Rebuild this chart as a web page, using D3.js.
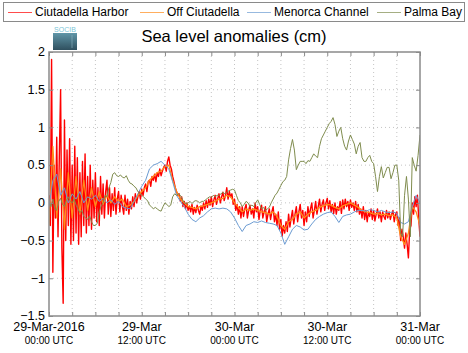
<!DOCTYPE html>
<html>
<head>
<meta charset="utf-8">
<script src="https://cdn.jsdelivr.net/npm/d3@7/dist/d3.min.js"></script>
<style>
body { margin: 0; background: #fff; }
svg text { font-family: "Liberation Sans", Arial, Helvetica, sans-serif; fill: #000; }
</style>
</head>
<body>
<div id="chart"></div>
<script>
// series names + colours
const seriesNames = ["Ciutadella Harbor", "Off Ciutadella", "Menorca Channel", "Palma Bay"];
const seriesColors = ["#ff0000", "#ff8c1a", "#6b9bd2", "#7f8c4e"];

// x axis labels
const tickLabelTop = ["29-Mar-2016", "29-Mar", "30-Mar", "30-Mar", "31-Mar"];
const tickLabelBottom = ["00:00 UTC", "12:00 UTC", "00:00 UTC", "12:00 UTC", "00:00 UTC"];
const yTicks = [-1.5, -1, -0.5, 0, 0.5, 1, 1.5, 2];

const start = new Date(Date.UTC(2016, 2, 29, 0, 0));
const end = new Date(Date.UTC(2016, 2, 31, 0, 0));

// Ciutadella Harbor, every 10 min (one row = one hour)
const harbor = [
  0.1, -0.3, 1.9, -0.92, 0.5, -0.2,
  0.87, -0.45, 0.6, 1.5, -0.6, -1.33,
  1.1, -0.5, 0.7, -0.3, 0.85, -0.55,
  0.5, -0.5, 0.75, -0.4, 0.6, -0.55,
  0.4, -0.45, 0.55, -0.3, 0.65, -0.4,
  0.35, -0.3, 0.5, -0.35, 0.3, -0.2,
  0.4, -0.25, 0.2, -0.3, 0.35, -0.15,
  0.25, -0.2, 0.15, 0.3, -0.15, 0.2,
  -0.18, 0.12, -0.1, 0.2, -0.15, 0.05,
  0.15, -0.12, 0.1, -0.05, -0.15, 0.1,
  -0.1, 0.05, -0.15, 0.02, -0.08, 0.08,
  -0.05, 0.12, 0.0, 0.08, 0.15, 0.05,
  0.18, 0.1, 0.2, 0.25, 0.15, 0.28,
  0.3, 0.22, 0.35, 0.3, 0.38, 0.28,
  0.4, 0.35, 0.45, 0.36, 0.42, 0.47,
  0.5, 0.42, 0.55, 0.61, 0.5, 0.45,
  0.35, 0.28, 0.2, 0.15, 0.1, 0.12,
  0.02, 0.08, -0.05, 0.02, -0.08, 0.0,
  -0.1, -0.04, -0.12, -0.02, -0.15, -0.06,
  -0.13, -0.03, -0.1, -0.15, -0.04, -0.1,
  0.0, -0.08, 0.03, -0.06, 0.05, -0.03,
  0.08, -0.05, 0.04, 0.1, -0.02, 0.06,
  0.12, 0.0, 0.08, 0.14, 0.03, 0.1,
  0.2, 0.05, 0.15, 0.08, 0.12, -0.02,
  0.05, -0.1, -0.02, -0.15, -0.05, -0.2,
  -0.05, -0.18, -0.08, -0.02, -0.2, -0.1,
  -0.03, -0.15, -0.08, -0.2, 0.0, -0.12,
  -0.05, -0.22, -0.1, -0.03, -0.2, -0.12,
  -0.05, -0.25, -0.15, -0.08, -0.22, -0.12,
  -0.05, -0.25, -0.15, -0.3, -0.12, -0.35,
  -0.22, -0.44, -0.3, -0.4, -0.25, -0.38,
  -0.15, -0.32, -0.2, -0.1, -0.28, -0.15,
  -0.05, -0.25, -0.12, -0.02, -0.2, -0.1,
  -0.3, -0.12, -0.25, -0.05, -0.18, -0.08,
  0.0, -0.2, -0.1, 0.02, -0.15, -0.05,
  0.05, -0.12, -0.02, 0.04, -0.1, 0.0,
  0.06, -0.08, 0.03, -0.12, -0.02, -0.14,
  0.0, -0.15, -0.05, -0.1, 0.02, -0.14,
  0.04, -0.08, 0.05, -0.05, 0.02, -0.1,
  0.04, -0.06, 0.0, -0.1, 0.02, -0.12,
  -0.02, -0.15, -0.08, -0.2, -0.05, -0.22,
  -0.1, -0.25, -0.12, -0.18, -0.08, -0.22,
  -0.1, -0.24, -0.15, -0.08, -0.2, -0.12,
  -0.25, -0.12, -0.18, -0.22, -0.1, -0.2,
  -0.12, -0.22, -0.15, -0.1, -0.25, -0.15,
  -0.12, -0.3, -0.2, -0.5, -0.35, -0.45,
  -0.6, -0.4, -0.55, -0.73, -0.35, -0.3,
  0.0, -0.15, 0.08, -0.05, 0.1, -0.2,
  -0.45
];

// Off Ciutadella, every 30 min
const offCiutadella = [
  -0.3, 0.75, -0.2, 0.45, -0.35, 0.4, -0.2, 0.35, -0.15, 0.3, -0.1, 0.2,
  -0.05, 0.15, -0.02, 0.1, 0.0, 0.08, 0.02, 0.05, -0.05, -0.03, 0.02, 0.1,
  0.15, 0.2, 0.3, 0.35, 0.4, 0.42, 0.48, 0.5, 0.3, 0.15, 0.05, 0.0,
  -0.05, -0.06, -0.08, -0.05, -0.04, -0.02, 0.0, 0.02, 0.05, 0.06, 0.1, 0.08,
  0.0, -0.06, -0.12, -0.08, -0.1, -0.08, -0.1, -0.12, -0.13, -0.15, -0.12, -0.18,
  -0.3, -0.35, -0.25, -0.22, -0.15, -0.12, -0.2, -0.15, -0.12, -0.1, -0.06, -0.04,
  -0.02, -0.03, -0.06, -0.08, -0.04, -0.02, 0.0, -0.03, -0.06, -0.1, -0.12, -0.13,
  -0.15, -0.14, -0.16, -0.15, -0.17, -0.16, -0.2, -0.45, -0.55, -0.4, -0.05, -0.12,
  -0.3
];

// Menorca Channel, every 30 min
const menorca = [
  -0.05, 0.3, 0.38, 0.1, 0.2, 0.0, 0.12, 0.05, 0.15, 0.0, 0.08, 0.05,
  0.1, 0.02, 0.06, 0.0, 0.04, -0.02, 0.02, -0.05, -0.07, -0.08, 0.02, 0.12,
  0.22, 0.3, 0.45, 0.5, 0.52, 0.55, 0.5, 0.45, 0.28, 0.1, 0.02, -0.05,
  -0.15, -0.22, -0.25, -0.2, -0.17, -0.12, -0.08, -0.07, -0.08, -0.07, -0.08, -0.12,
  -0.2, -0.3, -0.38, -0.3, -0.28, -0.25, -0.26, -0.24, -0.26, -0.27, -0.28, -0.3,
  -0.4, -0.55, -0.45, -0.35, -0.3, -0.32, -0.36, -0.35, -0.28, -0.22, -0.18, -0.15,
  -0.13, -0.12, -0.18, -0.26, -0.18, -0.16, -0.15, -0.12, -0.1, -0.1, -0.11, -0.09,
  -0.1, -0.12, -0.1, -0.12, -0.13, -0.12, -0.14, -0.26, -0.28, -0.25, -0.05, 0.1,
  0.0
];

// Palma Bay, every 15 min
const palma = [
  0.0, -0.05, 0.05, -0.08, -0.1, 0.02, 0.06, -0.02, -0.05, 0.03, 0.08, 0.02,
  0.0, 0.05, -0.03, -0.08, -0.13, -0.1, -0.18, -0.2, -0.22, -0.17, -0.25, -0.3,
  -0.3, -0.27, -0.12, -0.04, 0.0, 0.1, 0.08, 0.2, 0.27, 0.38, 0.4, 0.36,
  0.35, 0.37, 0.34, 0.33, 0.36, 0.3, 0.26, 0.25, 0.22, 0.2, 0.15, 0.12,
  0.1, 0.08, 0.05, 0.03, -0.03, -0.05, -0.08, -0.06, -0.08, -0.1, -0.11, -0.05,
  0.0, -0.02, -0.05, -0.03, 0.08, 0.12, 0.1, 0.12, 0.1, 0.05, 0.0, -0.01,
  0.0, 0.02, -0.01, 0.02, 0.03, 0.02, 0.0, 0.02, 0.02, 0.04, 0.06, 0.08,
  0.07, 0.1, 0.08, 0.1, 0.1, 0.12, 0.14, 0.12, 0.14, 0.16, 0.17, 0.18,
  0.17, 0.1, 0.03, 0.0, -0.05, -0.02, 0.02, 0.0, -0.05, -0.03, -0.05, 0.0,
  0.04, -0.02, -0.08, -0.06, -0.1, -0.08, -0.06, 0.0, 0.05, 0.1, 0.13, 0.18,
  0.23, 0.28, 0.3, 0.35, 0.57, 0.72, 0.84, 0.7, 0.44, 0.5, 0.55, 0.55,
  0.55, 0.52, 0.56, 0.55, 0.6, 0.65, 0.62, 0.6, 0.75, 0.85, 0.9, 0.95,
  1.0, 1.05, 1.08, 1.13, 1.04, 0.88, 0.95, 1.0, 0.85, 0.75, 0.7, 0.82,
  0.9, 0.84, 0.78, 0.65, 0.75, 0.8, 0.6, 0.55, 0.55, 0.6, 0.63, 0.55,
  0.52, 0.35, 0.15, 0.35, 0.48, 0.33, 0.4, 0.47, 0.47, 0.32, 0.4, 0.5,
  0.5, 0.3, -0.4, -0.45, 0.1, 0.35, 0.05, -0.45, 0.6, 0.5, 0.42, 0.63,
  0.9
];

const seriesData = [harbor, offCiutadella, menorca, palma];
const seriesStep = [10, 30, 30, 15]; // minutes between samples
const seriesWidth = [1.4, 1.3, 1, 1];

const width = 468;
const height = 353;
const margin = { top: 52, right: 48, bottom: 37, left: 49 };

const svg = d3.select("#chart")
    .append("svg")
    .attr("width", width)
    .attr("height", height);

const x = d3.scaleUtc()
    .domain([start, end])
    .range([margin.left, width - margin.right]);

const y = d3.scaleLinear()
    .domain([-1.5, 2])
    .range([height - margin.bottom, margin.top]);

const x0 = margin.left, x1 = width - margin.right;
const y0 = margin.top, y1 = height - margin.bottom;

// ticks every 3 h
const xTicks = d3.utcHour.every(3).range(start, d3.utcHour.offset(end, 1));
const labelDates = d3.utcHour.every(12).range(start, d3.utcHour.offset(end, 1));

// grid
svg.append("g")
    .selectAll("line")
    .data(xTicks.slice(1, -1))
    .join("line")
    .attr("x1", d => x(d)).attr("x2", d => x(d))
    .attr("y1", y0).attr("y2", y1)
    .attr("stroke", "#c4c4c4")
    .attr("stroke-width", 1)
    .attr("stroke-dasharray", "1,3");

svg.append("g")
    .selectAll("line")
    .data(yTicks.slice(1, -1))
    .join("line")
    .attr("x1", x0).attr("x2", x1)
    .attr("y1", d => y(d)).attr("y2", d => y(d))
    .attr("stroke", "#c4c4c4")
    .attr("stroke-width", 1)
    .attr("stroke-dasharray", "1,3");

// data lines
svg.append("clipPath").attr("id", "plotclip")
    .append("rect")
    .attr("x", x0).attr("y", y0)
    .attr("width", x1 - x0).attr("height", y1 - y0);

const plot = svg.append("g").attr("clip-path", "url(#plotclip)");

seriesData.forEach((vals, k) => {
    const pts = vals.map((v, i) => ({ t: d3.utcMinute.offset(start, i * seriesStep[k]), v: v }));
    plot.append("path")
        .datum(pts)
        .attr("fill", "none")
        .attr("stroke", seriesColors[k])
        .attr("stroke-width", seriesWidth[k])
        .attr("stroke-linejoin", "round")
        .attr("d", d3.line().x(d => x(d.t)).y(d => y(d.v)));
});

// axes, ticks pointing inwards on all four sides
const axisColor = "#8a8a8a";
function styleAxis(g) {
    g.select(".domain").remove();
    g.selectAll(".tick line").attr("stroke", axisColor);
    g.selectAll(".tick text").remove();
}

svg.append("g").attr("transform", `translate(0,${y1})`)
    .call(d3.axisBottom(x).tickValues(xTicks).tickSizeInner(-4).tickSizeOuter(0))
    .call(styleAxis);
svg.append("g").attr("transform", `translate(0,${y0})`)
    .call(d3.axisTop(x).tickValues(xTicks).tickSizeInner(-4).tickSizeOuter(0))
    .call(styleAxis);
svg.append("g").attr("transform", `translate(${x0},0)`)
    .call(d3.axisLeft(y).tickValues(yTicks).tickSizeInner(-4).tickSizeOuter(0))
    .call(styleAxis);
svg.append("g").attr("transform", `translate(${x1},0)`)
    .call(d3.axisRight(y).tickValues(yTicks).tickSizeInner(-4).tickSizeOuter(0))
    .call(styleAxis);

svg.append("rect")
    .attr("x", x0).attr("y", y0)
    .attr("width", x1 - x0).attr("height", y1 - y0)
    .attr("fill", "none")
    .attr("stroke", axisColor)
    .attr("stroke-width", 1.5);

// y tick labels
svg.append("g")
    .selectAll("text")
    .data(yTicks)
    .join("text")
    .attr("x", x0 - 4)
    .attr("y", d => y(d))
    .attr("dy", "0.34em")
    .attr("text-anchor", "end")
    .style("font-size", "12.5px")
    .text(d => d3.format("")(d));

// x tick labels (two lines)
const xl = svg.append("g")
    .selectAll("g")
    .data(labelDates)
    .join("g");
xl.append("text")
    .attr("x", d => x(d))
    .attr("y", 331)
    .attr("text-anchor", "middle")
    .style("font-size", "12.5px")
    .text((d, i) => tickLabelTop[i]);
xl.append("text")
    .attr("x", d => x(d))
    .attr("y", 344)
    .attr("text-anchor", "middle")
    .style("font-size", "10px")
    .text((d, i) => tickLabelBottom[i]);

// title
svg.append("text")
    .attr("x", 234)
    .attr("y", 42)
    .attr("text-anchor", "middle")
    .style("font-size", "16.5px")
    .text("Sea level anomalies (cm)");

// SOCIB logo
const grad = svg.append("defs").append("linearGradient")
    .attr("id", "logograd").attr("x1", 0).attr("y1", 0).attr("x2", 0).attr("y2", 1);
grad.append("stop").attr("offset", "0%").attr("stop-color", "#5f96a8");
grad.append("stop").attr("offset", "100%").attr("stop-color", "#2f4f5e");
svg.append("text")
    .attr("x", 65).attr("y", 32)
    .attr("text-anchor", "middle")
    .style("font-size", "7px")
    .style("fill", "#7cc5d6")
    .text("SOCIB");
svg.append("rect")
    .attr("x", 53).attr("y", 33)
    .attr("width", 24).attr("height", 17)
    .attr("fill", "url(#logograd)");
svg.append("line")
    .attr("x1", 72).attr("x2", 72).attr("y1", 35).attr("y2", 48)
    .attr("stroke", "#8fb7c4").attr("stroke-width", 0.6);

// legend
const legend = svg.append("g");
legend.append("rect")
    .attr("x", 3.5).attr("y", 2.5)
    .attr("width", 461).attr("height", 19)
    .attr("fill", "#fff")
    .attr("stroke", "#8a8a8a")
    .attr("stroke-width", 1);
const legendX = [8, 140, 247, 377];
seriesNames.forEach((name, k) => {
    legend.append("line")
        .attr("x1", legendX[k]).attr("x2", legendX[k] + 24)
        .attr("y1", 12.5).attr("y2", 12.5)
        .attr("stroke", seriesColors[k])
        .attr("stroke-opacity", 0.7)
        .attr("stroke-width", 1);
    legend.append("text")
        .attr("x", legendX[k] + 27)
        .attr("y", 12)
        .attr("dy", "0.36em")
        .style("font-size", "12px")
        .text(name);
});
</script>
</body>
</html>
